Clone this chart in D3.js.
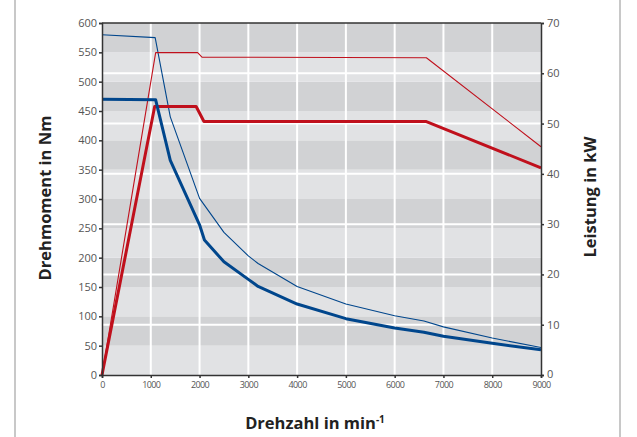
<!DOCTYPE html>
<html><head><meta charset="utf-8">
<script src="https://cdn.jsdelivr.net/npm/d3@7"></script>
<style>body{margin:0;background:#fff;}svg{display:block;font-family:"Open Sans",sans-serif;}</style>
</head><body><svg id="c" width="637" height="437"></svg>
<script>
// Data
const rpmTicks = [0,1000,2000,3000,4000,5000,6000,7000,8000,9000];
const torqueTicks = [0,50,100,150,200,250,300,350,400,450,500,550,600];
const powerTicks = [0,10,20,30,40,50,60,70];

// Peak torque (Nm) - thin blue
const peakTorqueRpm = [0,1090,1400,2000,2500,3000,3200,4000,5000,6000,6600,7000,8000,9000];
const peakTorqueNm  = [580,575,440,301,243,203,190,151,121,101,92,82,63,47];
// Continuous torque (Nm) - thick blue
const contTorqueRpm = [0,1100,1400,2000,2100,2500,3000,3200,4000,5000,6000,6600,7000,8000,9000];
const contTorqueNm  = [470,469,366,256,230,193,163,151,121,96,80,73,66,54,43];
// Peak power (kW) - thin red
const peakPowerRpm = [0,1100,1960,2050,6650,9000];
const peakPowerKW  = [0,64.1,64.1,63.2,63.1,45.4];
// Continuous power (kW) - thick red
const contPowerRpm = [0,1080,1930,2090,6650,9000];
const contPowerKW  = [0,53.4,53.4,50.4,50.4,41.2];

const svg = d3.select("#c");
const L=102, R=541, T=23, B=375;
const x = d3.scaleLinear().domain([0,9000]).range([L,R]);
const yT = d3.scaleLinear().domain([0,600]).range([B,T]);
const yP = d3.scaleLinear().domain([0,70]).range([B,T]);

// frame lines
svg.append("line").attr("x1",15).attr("x2",15).attr("y1",0).attr("y2",437).attr("stroke","#c8c8c8").attr("stroke-width",2);
svg.append("line").attr("x1",620).attr("x2",620).attr("y1",0).attr("y2",437).attr("stroke","#c8c8c8").attr("stroke-width",2);

// bands every 50 Nm
const bands = d3.range(0,600,50);
svg.append("g").selectAll("rect").data(bands).join("rect")
  .attr("x",L).attr("width",R-L)
  .attr("y",d=>yT(d+50)).attr("height",d=>yT(d)-yT(d+50))
  .attr("fill",d=>((600-d-50)/50)%2===0?"#d1d2d4":"#e1e2e4");

// white grid
const g = svg.append("g").attr("stroke","#fff").attr("stroke-width",2);
g.selectAll("line.v").data(rpmTicks.slice(1,-1)).join("line").attr("class","v")
  .attr("x1",d=>x(d)).attr("x2",d=>x(d)).attr("y1",T).attr("y2",B);
g.selectAll("line.h").data(powerTicks.slice(1,-1)).join("line").attr("class","h")
  .attr("y1",d=>yP(d)).attr("y2",d=>yP(d)).attr("x1",L).attr("x2",R);

// lines
const blue="#00468c", red="#c0101c";
function draw(xs,ys,ys_scale,color,w){
  const pts = xs.map((v,i)=>[v,ys[i]]);
  svg.append("path").datum(pts)
    .attr("d",d3.line().x(d=>x(d[0])).y(d=>ys_scale(d[1])))
    .attr("fill","none").attr("stroke",color).attr("stroke-width",w).attr("stroke-linejoin","round");
}
draw(peakTorqueRpm,peakTorqueNm,yT,blue,1.1);
draw(peakPowerRpm,peakPowerKW,yP,red,1.1);
draw(contPowerRpm,contPowerKW,yP,red,3);
draw(contTorqueRpm,contTorqueNm,yT,blue,3);

// top border
svg.append("line").attr("x1",L).attr("x2",R).attr("y1",T).attr("y2",T).attr("stroke","#333").attr("stroke-width",1.5);

// axes
const axL = svg.append("g").attr("transform",`translate(${L},0)`)
  .call(d3.axisLeft(yT).tickValues(torqueTicks).tickSize(3).tickPadding(2));
const axR = svg.append("g").attr("transform",`translate(${R},0)`)
  .call(d3.axisRight(yP).tickValues(powerTicks).tickSize(3).tickPadding(3));
const axB = svg.append("g").attr("transform",`translate(0,${B})`)
  .call(d3.axisBottom(x).tickValues(rpmTicks).tickSize(3).tickPadding(4).tickFormat(d3.format("d")));
[axL,axR,axB].forEach(a=>{
  a.select(".domain").attr("stroke","#333").attr("stroke-width",1.5);
  a.selectAll(".tick line").attr("stroke","#333").attr("stroke-width",1.5);
  a.selectAll("text").attr("fill","#555").style("font-family","'Open Sans',sans-serif");
});
axL.selectAll("text").style("font-size","11px");
axR.selectAll("text").style("font-size","11px");
axR.selectAll(".tick").filter(d=>d===0).select("text").attr("dy","0.2em");
axB.selectAll("text").style("font-size","9px").style("letter-spacing","-0.6px");

// titles
svg.append("text").attr("transform","translate(51,198) rotate(-90)").attr("text-anchor","middle")
  .style("font-size","16.5px").style("font-weight","bold").attr("fill","#222").text("Drehmoment in Nm");
svg.append("text").attr("transform","translate(596,197) rotate(-90)").attr("text-anchor","middle")
  .style("font-size","16.5px").style("font-weight","bold").attr("fill","#222").text("Leistung in kW");
const t = svg.append("text").attr("x",315).attr("y",429).attr("text-anchor","middle")
  .style("font-size","16.5px").style("font-weight","bold").attr("fill","#222");
t.append("tspan").text("Drehzahl in min");
t.append("tspan").attr("dy",-6).style("font-size","10px").text("-1");
</script></body></html>
